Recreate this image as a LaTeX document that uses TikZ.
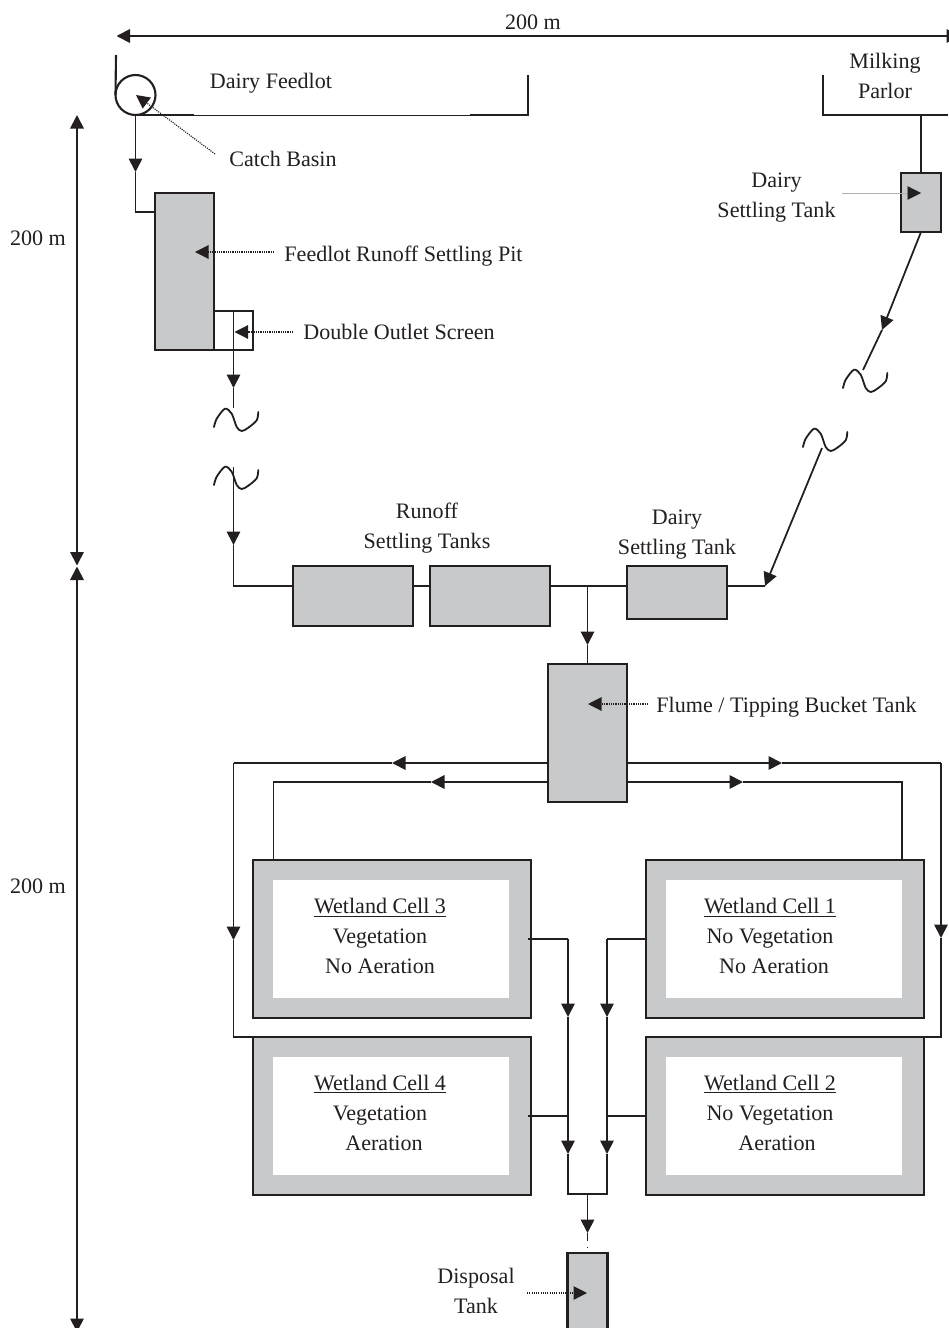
\documentclass[tikz,border=0pt]{standalone}
\usepackage{fontspec}
\setmainfont{Liberation Serif}
\usetikzlibrary{arrows.meta, positioning, calc}
\definecolor{tankgray}{HTML}{C8C9CB}
\definecolor{ink}{HTML}{231F20}
\def\px{0.025cm}
\tikzset{
  tank/.style 2 args={draw=ink, fill=tankgray, line width=1.5pt, inner sep=0pt, outer sep=0pt,
                  minimum width=#1*\px, minimum height=#2*\px},
  pane/.style ={fill=white, inner sep=0pt, outer sep=0pt,
                  minimum width=236*\px, minimum height=118*\px},
  lbl/.style  ={font=\fontsize{15.7}{21.3}\selectfont, text=ink, align=center, inner sep=0pt},
  wall/.style ={draw=ink, line width=1.5pt},
  thinwall/.style={draw=ink, line width=0.7pt},
  pipe/.style ={draw=ink, line width=1.25pt},
  arr/.style  ={draw=ink, line width=1.25pt, -{Triangle[length=9.6pt, width=9.6pt]}},
  dimen/.style={draw=ink, line width=1.25pt, {Triangle[length=9.6pt, width=9.6pt]}-{Triangle[length=9.6pt, width=9.6pt]}},
  lead/.style ={draw=ink, line width=0.8pt, dash pattern=on 0.8pt off 0.8pt, -{Triangle[length=9.6pt, width=9.6pt]}},
  faint/.style={draw=ink!35, line width=0.4pt, -{Triangle[length=9.6pt, width=9.6pt, color=ink]}},
  squiggle/.pic={\draw[ink, line width=1.3pt, line cap=round] plot[smooth] coordinates
                  {(0,0) (2.7,-8.3) (11,-18.3) (17.7,-13.3) (22.7,0) (27.7,4) (34.3,0.7) (42.7,-6.7) (44.3,-15)};},
}
\begin{document}
\begin{tikzpicture}[x=0.025cm, y=-0.025cm]
  \useasboundingbox (0,0) rectangle (948,1328);

  \coordinate (dimw) at (116.5,36);
  \coordinate (dime) at (960,36);
  \coordinate (dimt) at (77,115);
  \coordinate (dimm) at (77,565.5);
  \coordinate (dimn) at (77,566.5);
  \coordinate (dimb) at (77,1332);
  \draw[dimen] (dimw) -- (dime);
  \draw[dimen] (dimt) -- (dimm);
  \draw[dimen] (dimn) -- (dimb);
  \node[lbl] (wtop)  at (533,22)  {200 m};
  \node[lbl] (hone)  at (38,238)  {200 m};
  \node[lbl] (htwo)  at (38,886)  {200 m};

  \node[draw=ink, fill=white, line width=1.25pt, inner sep=0pt, outer sep=0pt,
        minimum size=39*\px] (scr) at (233.5,330.5) {};
  \node[tank={59}{157}] (pit)   at (184.5,271.5) {};
  \node[tank={120}{60}] (tka)   at (353,596)     {};
  \node[tank={120}{60}] (tkb)   at (490,596)     {};
  \node[tank={100}{53}] (tkc)   at (677,592.5)   {};
  \node[tank={79}{138}] (flume) at (587.5,733)   {};
  \node[tank={40}{59}]  (ptank) at (921,202.5)   {};
  \node[tank={40}{87}]  (disp)  at (587.5,1296.5){};

  \node[tank={278}{158}] (cthree) at (392,939)  {};
  \node[tank={278}{158}] (cone)   at (785,939)  {};
  \node[tank={278}{158}] (cfour)  at (392,1116) {};
  \node[tank={278}{158}] (ctwo)   at (785,1116) {};
  \node[pane] (pthree) at ([xshift=-1*\px]cthree.center) {};
  \node[pane] (pone)   at ([xshift=-1*\px]cone.center)   {};
  \node[pane] (pfour)  at ([xshift=-1*\px]cfour.center)  {};
  \node[pane] (ptwo)   at ([xshift=-1*\px]ctwo.center)   {};
  \node[lbl] (tthree) at (380,936)  {\underline{Wetland Cell 3}\\Vegetation\\No Aeration};
  \node[lbl] (tone)   at (770,936)  {\underline{Wetland Cell 1}\\No Vegetation\\\hspace*{5.7pt}No Aeration};
  \node[lbl] (tfour)  at (380,1112.5) {\underline{Wetland Cell 4}\\Vegetation\\\hspace*{5.7pt}Aeration};
  \node[lbl] (ttwo)   at (770,1112.5) {\underline{Wetland Cell 2}\\No Vegetation\\\hspace*{10pt}Aeration};

  \node[draw=ink, line width=1.5pt, inner sep=0pt, outer sep=0pt, minimum size=40*\px,
        circle] (basin) at (135.5,95) {};
  \coordinate (fa) at (116,55);
  \coordinate (fb) at (135.5,115);
  \coordinate (fc) at (194,115);
  \coordinate (fd) at (470,115);
  \coordinate (fe) at (528,115);
  \coordinate (ff) at (528,75);
  \draw[wall] (fa) -- (basin.west);
  \draw[wall] (fb) -- (fc);
  \draw[thinwall] (fc) -- (fd);
  \draw[wall] (fd) -- (fe) -- (ff);
  \node[lbl] (feedlot) at (271,83) {Dairy Feedlot};

  \coordinate (ma) at (823,75);
  \coordinate (mb) at (823,115);
  \coordinate (mc) at (948,115);
  \coordinate (md) at (921,115);
  \draw[wall] (ma) -- (mb) -- (mc);
  \node[lbl] (parlor) at (885,76) {Milking\\Parlor};

  \coordinate (ka) at (135.5,172);
  \coordinate (kb) at (135.5,212);
  \draw[arr]  (basin.south) -- (ka);
  \draw[pipe] (ka) -- (kb) -- (kb -| pit.west);

  \coordinate (kc) at (233.5,388);
  \coordinate (kd) at (233.5,408);
  \draw[arr]  (scr.north) -- (kc);
  \draw[pipe] (kc) -- (kd);
  \pic (sqa) at (214,427) {squiggle};
  \pic (sqb) at (214,485) {squiggle};
  \coordinate (ke) at (233.5,467);
  \coordinate (kf) at (233.5,545);
  \coordinate (kg) at (233.5,586);
  \draw[arr]  (ke) -- (kf);
  \draw[pipe] (kf) -- (kg) -- (kg -| tka.west);
  \draw[pipe] (kg -| tka.east) -- (kg -| tkb.west);
  \draw[pipe] (kg -| tkb.east) -- (kg -| tkc.west);

  \draw[pipe] (md) -- (ptank.north);
  \coordinate (kh) at (882,330);
  \coordinate (ki) at (863,370);
  \draw[arr]  (ptank.south) -- (kh);
  \draw[pipe] (kh) -- (ki);
  \pic (sqc) at (843,388) {squiggle};
  \pic (sqd) at (803,447) {squiggle};
  \coordinate (kj) at (822,448);
  \coordinate (kk) at (765,586);
  \draw[arr]  (kj) -- (kk);
  \draw[pipe] (kk) -- (kk -| tkc.east);

  \coordinate (kl) at (587.5,586);
  \coordinate (km) at (587.5,645);
  \draw[arr]  (kl) -- (km);
  \draw[pipe] (km) -- (flume.north);

  \coordinate (oa) at (392,763);
  \coordinate (ob) at (233.5,763);
  \coordinate (oc) at (233.5,940);
  \coordinate (od) at (233.5,1037);
  \draw[arr]  (oa -| flume.west) -- (oa);
  \draw[pipe] (oa) -- (ob);
  \draw[arr]  (ob) -- (oc);
  \draw[pipe] (oc) -- (od) -- (cfour.north west);

  \coordinate (oe) at (431,782);
  \coordinate (of) at (273.5,782);
  \draw[arr]  (oe -| flume.west) -- (oe);
  \draw[pipe] (oe) -- (of) -- (of |- cthree.north);

  \coordinate (og) at (782,763);
  \coordinate (oh) at (941,763);
  \coordinate (oi) at (941,938);
  \coordinate (oj) at (941,1037);
  \draw[arr]  (og -| flume.east) -- (og);
  \draw[pipe] (og) -- (oh);
  \draw[arr]  (oh) -- (oi);
  \draw[pipe] (oi) -- (oj) -- (ctwo.north east);

  \coordinate (ok) at (743,782);
  \coordinate (ol) at (902,782);
  \draw[arr]  (ok -| flume.east) -- (ok);
  \draw[pipe] (ok) -- (ol) -- (ol |- cone.north);

  \coordinate (wa) at (568,939);
  \coordinate (wb) at (568,1017);
  \coordinate (wc) at (568,1154);
  \coordinate (wd) at (568,1194);
  \coordinate (we) at (607,939);
  \coordinate (wf) at (607,1017);
  \coordinate (wg) at (607,1154);
  \coordinate (wh) at (607,1194);
  \coordinate (wi) at (587.5,1194);
  \coordinate (wj) at (587.5,1233);
  \draw[pipe] ([xshift=-3*\px]cthree.east) -- (wa);
  \draw[arr]  (wa) -- (wb);
  \draw[arr]  (wb) -- (wc);
  \draw[pipe] ([xshift=-3*\px]cfour.east) -- (wb |- cfour.east);
  \draw[pipe] (cone.west) -- (we);
  \draw[arr]  (we) -- (wf);
  \draw[arr]  (wf) -- (wg);
  \draw[pipe] (ctwo.west) -- (wf |- ctwo.west);
  \draw[pipe] (wc) -- (wd) -- (wh) -- (wg);
  \draw[arr]  (wi) -- (wj);
  \draw[pipe, dash pattern=on 5.7pt off 4pt on 1pt off 10pt] (wj) -- (disp.north);

  \node[lbl] (lbasin) at (283,159)   {Catch Basin};
  \node[lbl] (lpit)   at (403.5,256) {Feedlot Runoff Settling Pit};
  \node[lbl] (lscr)   at (399,332)   {Double Outlet Screen};
  \node[lbl] (lptank) at (776.5,198) {Dairy\\Settling Tank};
  \node[lbl] (ltka)   at (427,528)   {Runoff\\Settling Tanks};
  \node[lbl] (ltkc)   at (677,535)   {Dairy\\Settling Tank};
  \node[lbl] (lflume) at (786.5,707) {Flume / Tipping Bucket Tank};
  \node[lbl] (ldisp)  at (476,1291)  {Disposal\\Tank};

  \coordinate (la) at (215,154);
  \coordinate (lb) at (136,95);
  \coordinate (lc) at (274,252);
  \coordinate (ld) at (195,252);
  \coordinate (le) at (293,332);
  \coordinate (lf) at (234.5,332);
  \coordinate (lg) at (842,193);
  \coordinate (lh) at (921,193);
  \coordinate (li) at (648,704);
  \coordinate (lj) at (588,704);
  \coordinate (lk) at (527,1293);
  \coordinate (ll) at (587,1293);
  \draw[lead]  (la) -- (lb);
  \draw[lead]  (lc) -- (ld);
  \draw[lead]  (le) -- (lf);
  \draw[faint] (lg) -- (lh);
  \draw[lead]  (li) -- (lj);
  \draw[lead]  (lk) -- (ll);
\end{tikzpicture}
\end{document}
